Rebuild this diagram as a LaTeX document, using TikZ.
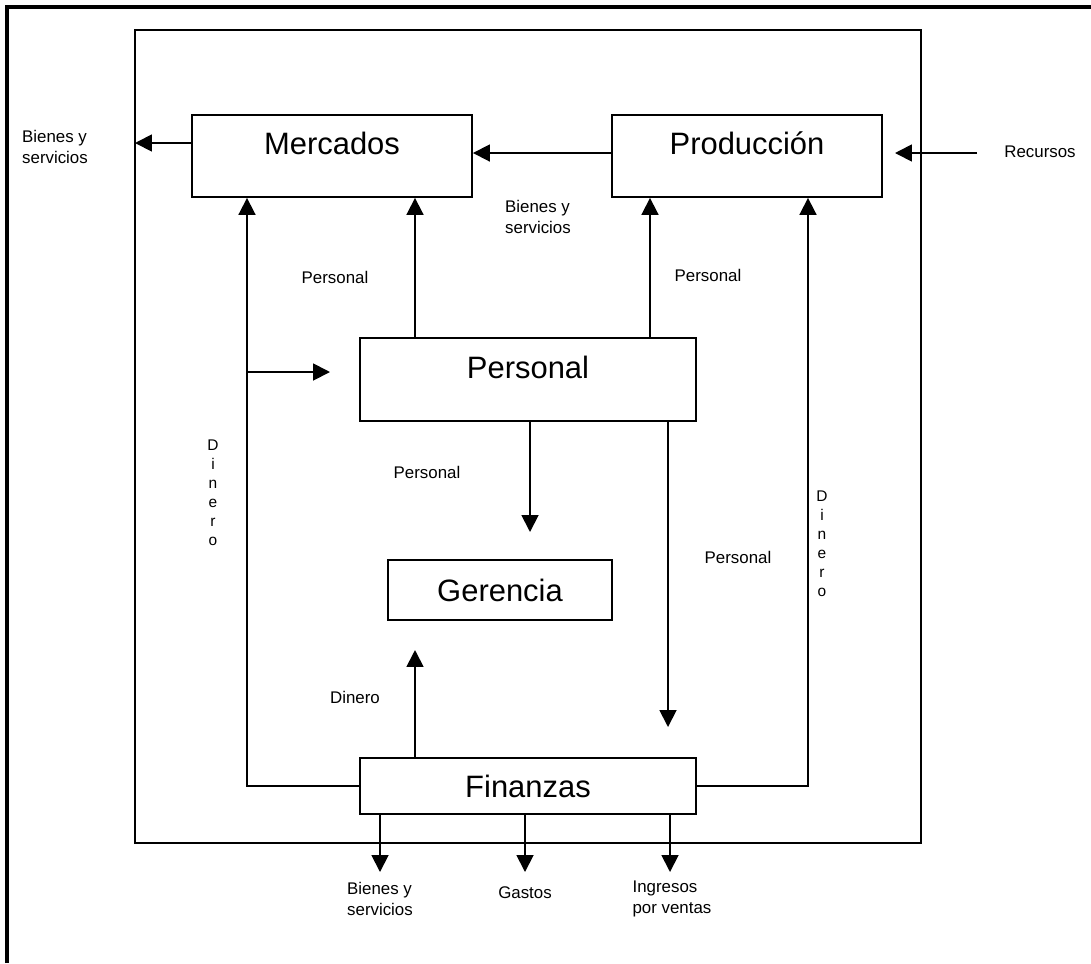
\documentclass[tikz,border=0pt]{standalone}
\usepackage{fontspec}
\setmainfont{Liberation Sans}
\usetikzlibrary{arrows.meta}

\tikzset{
  caja/.style={draw, line width=1.3pt, inner sep=0pt, font=\fontsize{22}{24}\selectfont},
  arriba/.style={text height=16pt, text depth=18pt},
  flecha/.style={line width=1.3pt, -{Triangle[length=12pt,width=12pt]}},
  rotulo/.style={font=\fontsize{12}{15.5}\selectfont, align=left},
  vertical/.style={font=\fontsize{11}{13.5}\selectfont, align=center},
}

\begin{document}
\begin{tikzpicture}[x=0.025cm,y=-0.025cm]
\useasboundingbox (0,0) rectangle (1091,963);
% marcos
\draw[line width=2.2pt] (7,963) -- (7,7) -- (1091,7);
\draw[line width=1.4pt] (135,30) rectangle (921,843);

% cajas
\node[caja, arriba, minimum width=7cm, minimum height=2.05cm] (merc) at (332,156) {Mercados};
\node[caja, arriba, minimum width=6.75cm, minimum height=2.05cm] (prod) at (747,156) {Producción};
\node[caja, arriba, minimum width=8.4cm, minimum height=2.075cm] (pers) at (528,379.5) {Personal};
\node[caja, minimum width=5.6cm, minimum height=1.5cm] (ger) at (500,590) {Gerencia};
\node[caja, minimum width=8.4cm, minimum height=1.4cm] (fin) at (528,786) {Finanzas};

% puntos libres
\coordinate (bsIzq) at (135,143);
\coordinate (recIni) at (977,153);
\coordinate (recFin) at (895,153);
\coordinate (eqi) at (247,786);
\coordinate (eqd) at (808,786);
\coordinate (rama) at (247,372);
\coordinate (ramaFin) at (330,372);
\coordinate (p1) at (415,300);
\coordinate (p2) at (650,300);
\coordinate (g1) at (530,532);
\coordinate (f1) at (668,727);
\coordinate (g2) at (415,650);
\coordinate (s1) at (380,872);
\coordinate (s2) at (525,872);
\coordinate (s3) at (670,872);

% conexiones
\draw[flecha] (merc.west |- bsIzq) -- (bsIzq);
\draw[flecha] (prod.west |- recIni) -- (merc.east |- recIni);
\draw[flecha] (recIni) -- (recFin);
\draw[flecha] (fin.west |- eqi) -- (eqi) -- (merc.south -| eqi);
\draw[flecha] (rama) -- (ramaFin);
\draw[flecha] (fin.east |- eqd) -- (eqd) -- (prod.south -| eqd);
\draw[flecha] (pers.north -| p1) -- (merc.south -| p1);
\draw[flecha] (pers.north -| p2) -- (prod.south -| p2);
\draw[flecha] (pers.south -| g1) -- (g1);
\draw[flecha] (pers.south -| f1) -- (f1);
\draw[flecha] (fin.north -| g2) -- (g2);
\draw[flecha] (fin.south -| s1) -- (s1);
\draw[flecha] (fin.south -| s2) -- (s2);
\draw[flecha] (fin.south -| s3) -- (s3);

% rotulos
\node[rotulo] (tBsIzq) at (55,147) {Bienes y\\servicios};
\node[rotulo] (tRec) at (1040,152) {Recursos};
\node[rotulo] (tBsMed) at (538,217) {Bienes y\\servicios};
\node[rotulo] (tPers1) at (335,277) {Personal};
\node[rotulo] (tPers2) at (708,275) {Personal};
\node[rotulo] (tPers3) at (427,472) {Personal};
\node[rotulo] (tPers4) at (738,557) {Personal};
\node[rotulo] (tDin) at (355,697) {Dinero};
\node[vertical] (tDinIzq) at (213,493) {D\\i\\n\\e\\r\\o};
\node[vertical] (tDinDer) at (822,544) {D\\i\\n\\e\\r\\o};
\node[rotulo] (tBsAba) at (380,899) {Bienes y\\servicios};
\node[rotulo] (tGas) at (525,893) {Gastos};
\node[rotulo] (tIng) at (672,899) {Ingresos\\por ventas};
\end{tikzpicture}
\end{document}
